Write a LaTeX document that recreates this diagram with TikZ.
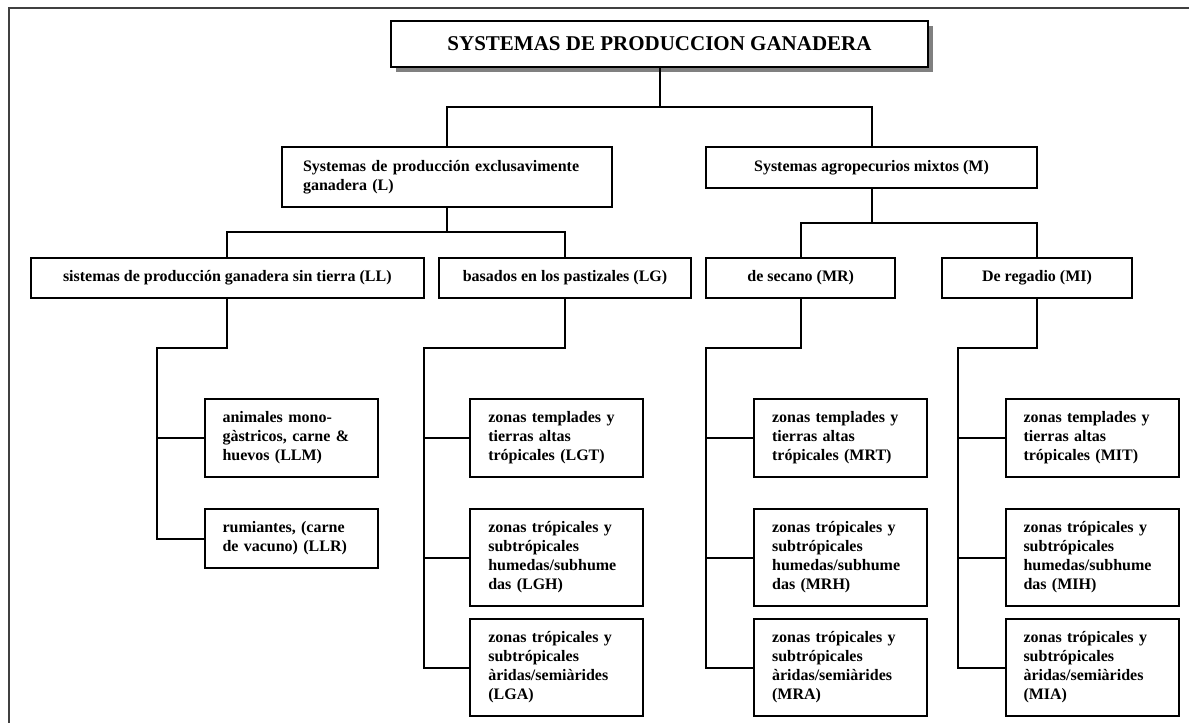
\documentclass[tikz,border=0pt]{standalone}
\usepackage{fontspec}
\setmainfont{Liberation Serif}
\usepackage{tikz}
\usetikzlibrary{calc,shadows}
\usepackage[dvipsnames]{xcolor}

\begin{document}
\begin{tikzpicture}[
    x=1pt, y=-1pt,          % one unit is one pixel of the sheet, y runs down
    box/.style={
        draw,
        fill=white,
        line width=2pt,
        inner sep=0pt,      % sizes are set by minimum width/height
        font=\bfseries\fontsize{16}{19}\selectfont
    },
    title/.style={
        box,
        minimum width=537pt,
        minimum height=46pt,
        font=\bfseries\fontsize{21}{25}\selectfont,
        drop shadow={shadow xshift=5pt, shadow yshift=-5pt, fill=gray, opacity=1}
    },
    branch/.style={box, minimum height=40pt},
    zone/.style={box, minimum width=173pt, text width=137pt, align=left},
    wire/.style={line width=2pt}
]
\useasboundingbox (0,0) rectangle (1189,723);

% page frame, cut off at the right and at the bottom
\draw[line width=2pt, black!75] (9,723) -- (9,8) -- (1189,8);

\node[title] (sys) at (659.5,44) {SYSTEMAS DE PRODUCCION GANADERA};

\node[box, minimum width=330pt, minimum height=60pt, text width=288pt, align=left]
    (L) at (447,177) {Systemas de producción exclusavimente\\ganadera (L)};
\node[box, minimum width=331pt, minimum height=41pt]
    (M) at (871.5,167.5) {Systemas agropecurios mixtos (M)};

\node[branch, minimum width=393pt] (LL) at (227.3,278) {sistemas de producción ganadera sin tierra (LL)};
\node[branch, minimum width=252pt] (LG) at (565,278) {basados en los pastizales (LG)};
\node[branch, minimum width=189pt] (MR) at (800.7,278) {de secano (MR)};
\node[branch, minimum width=190pt] (MI) at (1037,278) {De regadio (MI)};

% sin tierra
\node[zone, minimum height=78pt] (LLM) at (291,438) {animales mono-\\gàstricos, carne \&\\huevos (LLM)};
\node[zone, minimum height=59pt] (LLR) at (291,538.5) {rumiantes, (carne\\de vacuno) (LLR)};

% pastizales
\node[zone, minimum height=78pt] (LGT) at (556.8,438) {zonas templades y\\tierras altas\\trópicales (LGT)};
\node[zone, minimum height=97pt] (LGH) at (556.8,557.5) {zonas trópicales y\\subtrópicales\\humedas/subhume\\das (LGH)};
\node[zone, minimum height=97pt] (LGA) at (556.8,667.5) {zonas trópicales y\\subtrópicales\\àridas/semiàrides\\(LGA)};

% secano
\node[zone, minimum height=78pt] (MRT) at (840.6,438) {zonas templades y\\tierras altas\\trópicales (MRT)};
\node[zone, minimum height=97pt] (MRH) at (840.6,557.5) {zonas trópicales y\\subtrópicales\\humedas/subhume\\das (MRH)};
\node[zone, minimum height=97pt] (MRA) at (840.6,667.5) {zonas trópicales y\\subtrópicales\\àridas/semiàrides\\(MRA)};

% regadio
\node[zone, minimum height=78pt] (MIT) at (1092,438) {zonas templades y\\tierras altas\\trópicales (MIT)};
\node[zone, minimum height=97pt] (MIH) at (1092,557.5) {zonas trópicales y\\subtrópicales\\humedas/subhume\\das (MIH)};
\node[zone, minimum height=97pt] (MIA) at (1092,667.5) {zonas trópicales y\\subtrópicales\\àridas/semiàrides\\(MIA)};

% top level
\coordinate (topbus) at (659.5,107);
\draw[wire] (sys.south) -- (topbus);
\draw[wire] (L.north) |- (topbus) -| (M.north);

\coordinate (Lbus) at (447,232);
\draw[wire] (L.south) -- (Lbus);
\draw[wire] (LL.north) |- (Lbus) -| (LG.north);

\coordinate (Mbus) at (871.5,223);
\draw[wire] (M.south) -- (Mbus);
\draw[wire] (MR.north) |- (Mbus) -| (MI.north);

% side rails
\coordinate (LLbus) at (157,348);
\draw[wire] (LL.south) |- (LLbus) |- (LLR.west);
\draw[wire] (LLbus |- LLM.west) -- (LLM.west);

\coordinate (LGbus) at (424,348);
\draw[wire] (LG.south) |- (LGbus) |- (LGA.west);
\draw[wire] (LGbus |- LGT.west) -- (LGT.west);
\draw[wire] (LGbus |- LGH.west) -- (LGH.west);

\coordinate (MRbus) at (706,348);
\draw[wire] (MR.south) |- (MRbus) |- (MRA.west);
\draw[wire] (MRbus |- MRT.west) -- (MRT.west);
\draw[wire] (MRbus |- MRH.west) -- (MRH.west);

\coordinate (MIbus) at (958,348);
\draw[wire] (MI.south) |- (MIbus) |- (MIA.west);
\draw[wire] (MIbus |- MIT.west) -- (MIT.west);
\draw[wire] (MIbus |- MIH.west) -- (MIH.west);
\end{tikzpicture}
\end{document}
